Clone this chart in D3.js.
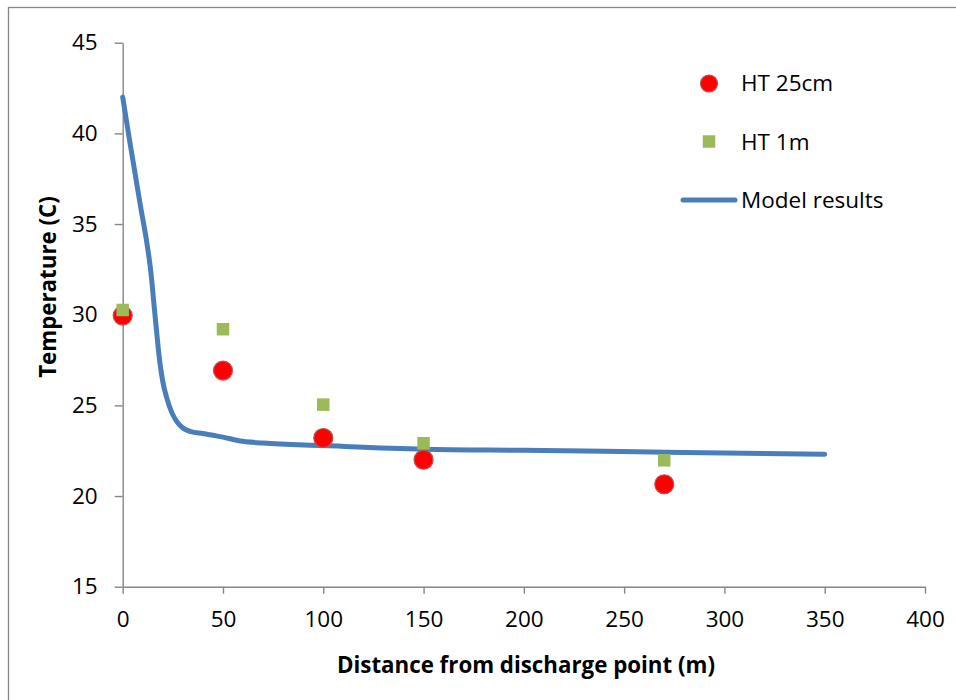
<!DOCTYPE html>
<html>
<head>
<meta charset="utf-8">
<script src="https://cdn.jsdelivr.net/npm/d3@7"></script>
<style>
  body { margin: 0; background: #fff; }
  text { font-family: "Open Sans", Lato, sans-serif; fill: #000; }
</style>
</head>
<body>
<div id="chart"></div>
<script>
// measured points
let dist25 = [0, 50, 100, 150, 270];
let temp25 = [29.95, 26.92, 23.2, 22.0, 20.65];
let dist1m = [0, 50, 100, 150, 270];
let temp1m = [30.26, 29.2, 25.04, 22.91, 21.97];

// model curve
let modelDist = [0, 3, 6, 9, 12, 14, 16, 18.5, 20, 22, 24.5, 27, 30, 34, 40, 45, 50, 58, 70, 100, 150, 200, 240, 270, 300, 350];
let modelTemp = [42.0, 39.9, 37.9, 35.9, 34.0, 32.4, 30.1, 27.4, 26.3, 25.4, 24.6, 24.1, 23.75, 23.55, 23.45, 23.35, 23.25, 23.05, 22.92, 22.78, 22.58, 22.52, 22.47, 22.42, 22.37, 22.3];

let xTicks = [0, 50, 100, 150, 200, 250, 300, 350, 400];
let yTicks = [15, 20, 25, 30, 35, 40, 45];

let W = 956, H = 700;
let margin = { top: 42.7, right: 31, bottom: 113.3, left: 122.7 };
let width = W - margin.left - margin.right;
let height = H - margin.top - margin.bottom;

let root = d3.select("#chart").append("svg")
  .attr("width", W)
  .attr("height", H);

// outer chart frame
root.append("rect")
  .attr("x", 8.5).attr("y", 7.5)
  .attr("width", 960).attr("height", 710)
  .attr("fill", "none")
  .attr("stroke", "#868686")
  .attr("stroke-width", 1.3);

let svg = root.append("g")
  .attr("transform", "translate(" + margin.left + "," + margin.top + ")");

let x = d3.scaleLinear().domain([0, 400]).range([0, width]);
let y = d3.scaleLinear().domain([15, 45]).range([height, 0]);

let axisColor = "#868686";

let xAxis = svg.append("g")
  .attr("transform", "translate(0," + height + ")")
  .call(d3.axisBottom(x).tickValues(xTicks).tickSize(7).tickSizeOuter(0).tickPadding(17));
let yAxis = svg.append("g")
  .call(d3.axisLeft(y).tickValues(yTicks).tickSize(8).tickSizeOuter(0).tickPadding(17));

[xAxis, yAxis].forEach(a => {
  a.selectAll("path, line").attr("stroke", axisColor).attr("stroke-width", 1.4);
  a.selectAll("text")
    .style("font-family", "'Open Sans', Lato, sans-serif")
    .style("font-size", "22.5px")
    .attr("fill", "#000");
});

// model line
let modelData = modelDist.map((d, i) => ({ d: d, t: modelTemp[i] }));
let line = d3.line()
  .x(p => x(p.d))
  .y(p => y(p.t))
  .curve(d3.curveMonotoneX);

svg.append("path")
  .datum(modelData)
  .attr("d", line)
  .attr("fill", "none")
  .attr("stroke", "#4a7ebb")
  .attr("stroke-width", 5)
  .attr("stroke-linecap", "round")
  .attr("stroke-linejoin", "round");

// HT 25cm circles
svg.selectAll(".c25")
  .data(dist25.map((d, i) => ({ d: d, t: temp25[i] })))
  .enter().append("circle")
  .attr("cx", p => x(p.d))
  .attr("cy", p => y(p.t))
  .attr("r", 9.5)
  .attr("fill", "#ff0000")
  .attr("stroke", "#c0504d")
  .attr("stroke-width", 1.2);

// HT 1m squares
let sq = 12.5;
svg.selectAll(".s1m")
  .data(dist1m.map((d, i) => ({ d: d, t: temp1m[i] })))
  .enter().append("rect")
  .attr("x", p => x(p.d) - sq / 2)
  .attr("y", p => y(p.t) - sq / 2)
  .attr("width", sq)
  .attr("height", sq)
  .attr("fill", "#9bbb59");

// axis titles
root.append("text")
  .attr("x", 526)
  .attr("y", 673)
  .attr("text-anchor", "middle")
  .style("font-size", "22.3px")
  .style("font-weight", "bold")
  .text("Distance from discharge point (m)");

root.append("text")
  .attr("transform", "translate(56,287) rotate(-90)")
  .attr("text-anchor", "middle")
  .style("font-size", "22.3px")
  .style("font-weight", "bold")
  .text("Temperature (C)");

// legend
let legend = root.append("g");
legend.append("circle")
  .attr("cx", 709).attr("cy", 83.5).attr("r", 8.5)
  .attr("fill", "#ff0000").attr("stroke", "#c0504d").attr("stroke-width", 1.2);
legend.append("text")
  .attr("x", 741).attr("y", 91)
  .style("font-size", "22.5px")
  .text("HT 25cm");

legend.append("rect")
  .attr("x", 709 - 6.25).attr("y", 141.5 - 6.25)
  .attr("width", 12.5).attr("height", 12.5)
  .attr("fill", "#9bbb59");
legend.append("text")
  .attr("x", 741).attr("y", 149.5)
  .style("font-size", "22.5px")
  .text("HT 1m");

legend.append("line")
  .attr("x1", 683).attr("x2", 735)
  .attr("y1", 200).attr("y2", 200)
  .attr("stroke", "#4a7ebb")
  .attr("stroke-width", 5)
  .attr("stroke-linecap", "round");
legend.append("text")
  .attr("x", 741).attr("y", 208)
  .style("font-size", "22.5px")
  .text("Model results");
</script>
</body>
</html>
